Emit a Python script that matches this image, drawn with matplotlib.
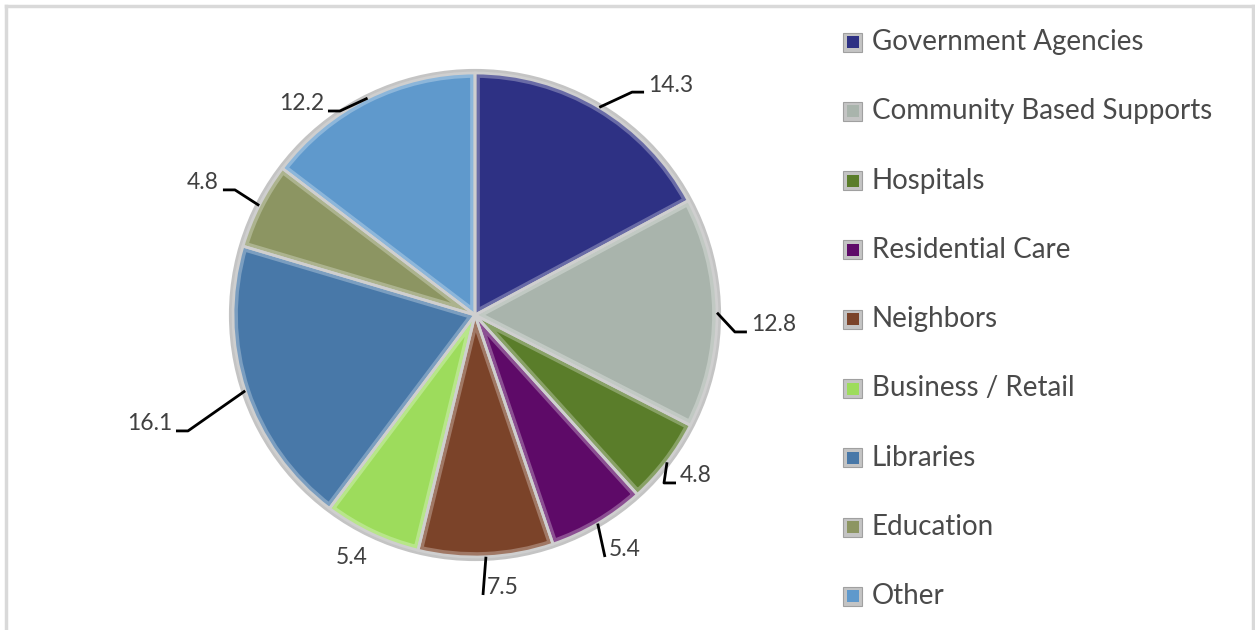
import numpy as np
import matplotlib.pyplot as plt
from matplotlib.patches import Rectangle, Circle, Wedge
from matplotlib.lines import Line2D
from matplotlib.colors import to_rgb

categories = ['Government Agencies', 'Community Based Supports', 'Hospitals',
              'Residential Care', 'Neighbors', 'Business / Retail', 'Libraries',
              'Education', 'Other']
values = [14.3, 12.8, 4.8, 5.4, 7.5, 5.4, 16.1, 4.8, 12.2]
colors = ['#2e3184', '#a9b4ac', '#5a7d2a', '#5e0a68', '#7b4329',
          '#9ddc5c', '#4878a8', '#8c9562', '#5f99cc']

# label layout: elbow point (in pie radii from centre), side of the text
# side: +1 text right, -1 text left, 2 = straight leader, 0 = no leader
label_elbow = [(0.649, 0.921, 1), (1.074, -0.070, 1), (0.781, -0.694, 1),
               (0.537, -1.000, 2), (0.033, -1.157, 2), (-0.508, -1.0, 0),
               (-1.186, -0.479, -1), (-0.992, 0.517, -1), (-0.558, 0.843, -1)]

W, H = 1255, 630
fig = plt.figure(figsize=(W / 100, H / 100), dpi=100)
ax = fig.add_axes([0, 0, 1, 1])

cx, cy, R = 475, H - 315, 242
text_col = '#404040'
lab_fs = 16.5


def lighten(c, f):
    r, g, b = to_rgb(c)
    return (r + (1 - r) * f, g + (1 - g) * f, b + (1 - b) * f)


# outer rim
ax.add_patch(Circle((cx, cy), R + 2, facecolor='none', edgecolor='#c4c4c4', lw=3, zorder=1))

wedges, _ = ax.pie(values, colors=colors, startangle=90, counterclock=False,
                   center=(cx, cy), radius=R,
                   wedgeprops=dict(edgecolor='none', linewidth=0))

# bevel band inside each wedge, then the light separators
for w, c in zip(wedges, colors):
    w.set_zorder(2)
    band = Wedge((cx, cy), R, w.theta1, w.theta2, facecolor='none',
                 edgecolor=lighten(c, 0.28), lw=7, zorder=2.5)
    ax.add_patch(band)
    band.set_clip_path(w)
    ax.add_patch(Wedge((cx, cy), R, w.theta1, w.theta2, facecolor='none',
                       edgecolor='#cfcfcf', lw=2, zorder=2.6))

ax.set_xlim(0, W)
ax.set_ylim(0, H)
ax.axis('off')

for w, v, (ex, ey, side) in zip(wedges, values, label_elbow):
    mid = np.deg2rad((w.theta1 + w.theta2) / 2)
    x0, y0 = cx + R * np.cos(mid), cy + R * np.sin(mid)
    x1, y1 = cx + ex * R, cy + ey * R
    if side == 0:
        ax.text(x1, y1, f'{v}', ha='center', va='center', fontsize=lab_fs,
                color=text_col, family='Lato')
        continue
    if side == 2:
        ax.plot([x0, x1], [y0, y1], color='black', lw=2, solid_capstyle='butt', zorder=3)
        ax.text(x1 + 4, y1 + 7, f'{v}', ha='left', va='center', fontsize=lab_fs,
                color=text_col, family='Lato')
        continue
    x2 = x1 + side * 12
    ax.plot([x0, x1, x2], [y0, y1, y1], color='black', lw=2,
            solid_capstyle='butt', zorder=3)
    ax.text(x2 + side * 4, y1 + 7, f'{v}', ha='left' if side > 0 else 'right',
            va='center', fontsize=lab_fs, color=text_col, family='Lato')

# legend
lx, ly0, dy = 843, H - 42, 69.3
for i, (name, c) in enumerate(zip(categories, colors)):
    y = ly0 - i * dy
    ax.add_patch(Rectangle((lx, y - 9.5), 19, 19, facecolor='#c4c4c4',
                           edgecolor='#a0a0a0', lw=0.8, zorder=3))
    ax.add_patch(Rectangle((lx + 3.5, y - 6), 12, 12, facecolor=c,
                           edgecolor='none', zorder=4))
    ax.text(lx + 29, y, name, ha='left', va='center', fontsize=20,
            color='#4a4a4a', family='Lato')

# chart frame
frame_kw = dict(color='#d9d9d9', lw=2.5, transform=None)
fig.add_artist(Line2D([6, W - 2], [H - 6, H - 6], **frame_kw))
fig.add_artist(Line2D([6, 6], [0, H - 6], **frame_kw))
fig.add_artist(Line2D([W - 2, W - 2], [0, H - 6], **frame_kw))

fig.savefig('out.png', dpi=100)
